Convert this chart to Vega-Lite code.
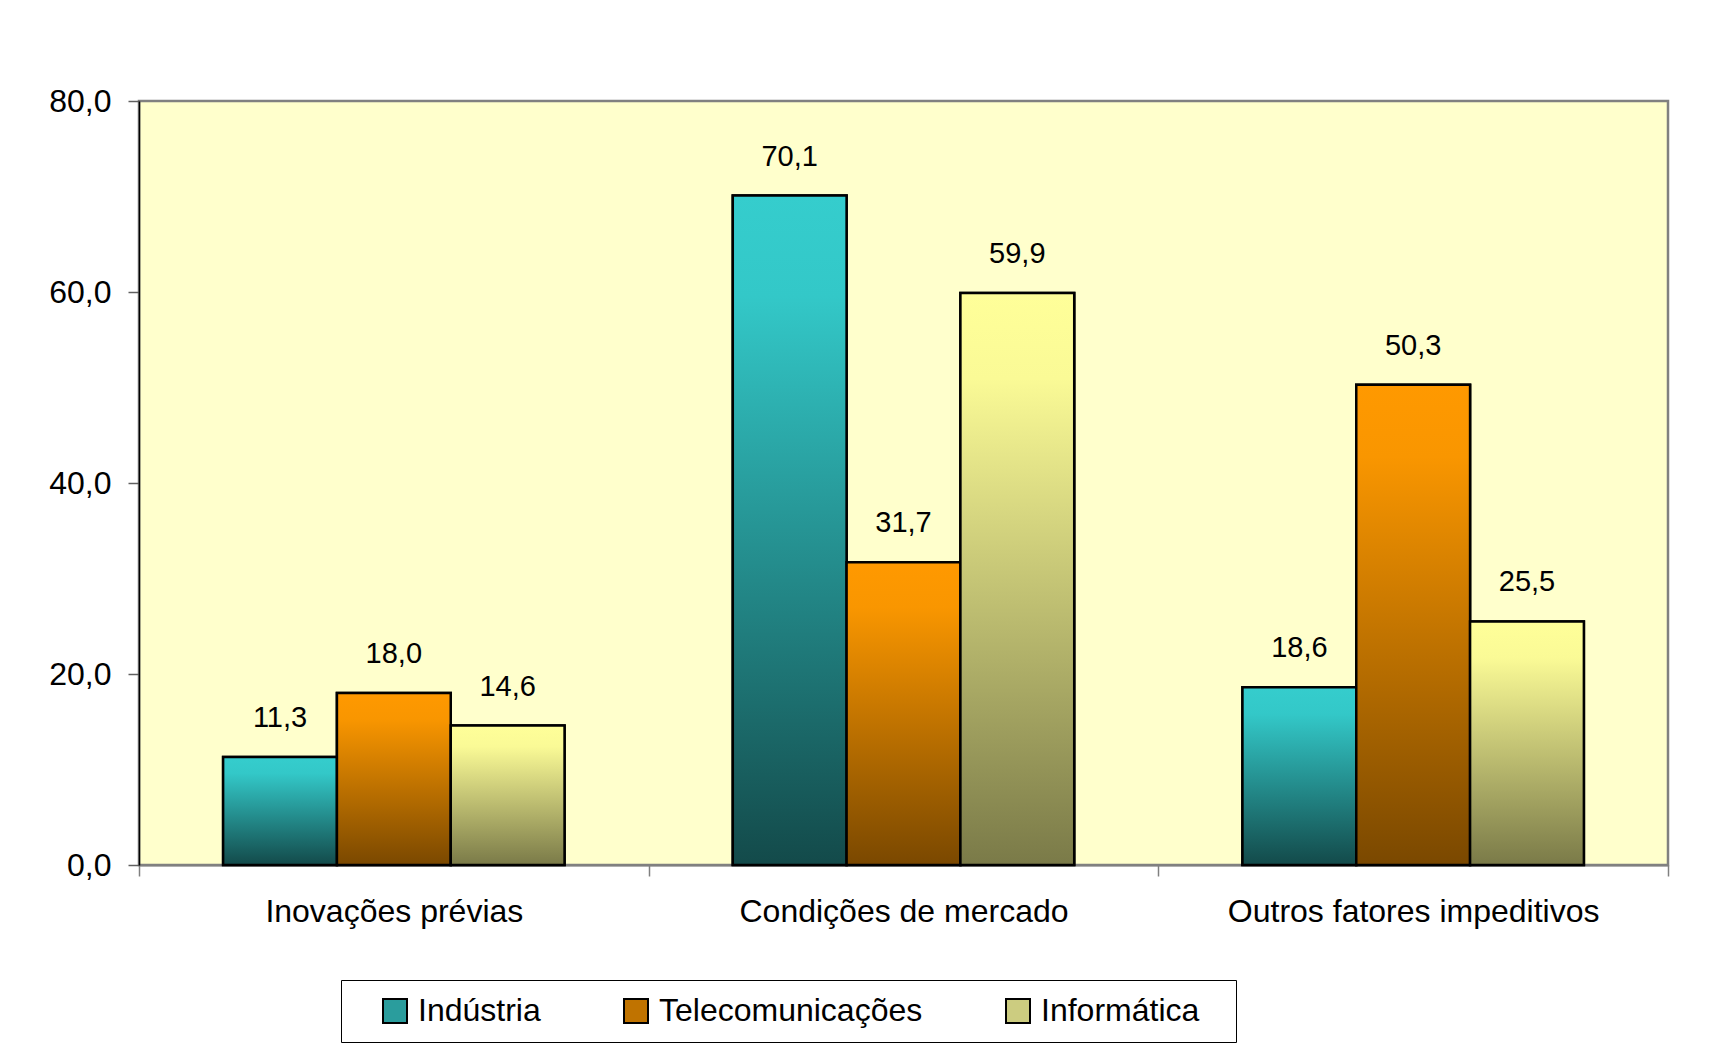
{
  "$schema": "https://vega.github.io/schema/vega-lite/v6.json",
  "width": 1529,
  "height": 764,
  "autosize": {"type": "none"},
  "padding": {"left": 139, "top": 101, "right": 52, "bottom": 185},
  "background": "white",
  "config": {
    "locale": {"number": {"decimal": ",", "thousands": ".", "grouping": [3], "currency": ["R$", ""]}},
    "font": "Liberation Sans",
    "view": {"fill": "#FFFFCC", "stroke": "#808080", "strokeWidth": 2.5}
  },
  "data": {
    "values": [
      {"fator": "Inovações prévias", "serie": "Indústria", "valor": 11.3},
      {"fator": "Inovações prévias", "serie": "Telecomunicações", "valor": 18.0},
      {"fator": "Inovações prévias", "serie": "Informática", "valor": 14.6},
      {"fator": "Condições de mercado", "serie": "Indústria", "valor": 70.1},
      {"fator": "Condições de mercado", "serie": "Telecomunicações", "valor": 31.7},
      {"fator": "Condições de mercado", "serie": "Informática", "valor": 59.9},
      {"fator": "Outros fatores impeditivos", "serie": "Indústria", "valor": 18.6},
      {"fator": "Outros fatores impeditivos", "serie": "Telecomunicações", "valor": 50.3},
      {"fator": "Outros fatores impeditivos", "serie": "Informática", "valor": 25.5}
    ]
  },
  "encoding": {
    "x": {
      "field": "fator", "type": "nominal",
      "sort": ["Inovações prévias", "Condições de mercado", "Outros fatores impeditivos"],
      "scale": {"paddingInner": 0, "paddingOuter": 0},
      "axis": {
        "title": null, "labelAngle": 0, "labelFontSize": 32, "labelColor": "black",
        "labelPadding": 20, "tickBand": "extent", "tickSize": 11, "tickColor": "#808080",
        "tickWidth": 1.5, "domainColor": "#808080", "domainWidth": 2, "labelLimit": 500
      }
    },
    "xOffset": {
      "field": "serie", "type": "nominal",
      "sort": ["Indústria", "Telecomunicações", "Informática"],
      "scale": {"paddingInner": 0, "paddingOuter": 0.739}
    },
    "y": {
      "field": "valor", "type": "quantitative",
      "scale": {"domain": [0, 80]},
      "axis": {
        "title": null, "values": [0, 20, 40, 60, 80], "format": ".1f", "grid": false,
        "labelFontSize": 32, "labelColor": "black", "labelPadding": 17,
        "tickSize": 11, "tickColor": "#606060", "tickWidth": 1.5,
        "domainColor": "black", "domainWidth": 1.5
      }
    }
  },
  "layer": [
    {
      "mark": {"type": "bar", "stroke": "black", "strokeWidth": 2.5},
      "encoding": {
        "fill": {
          "field": "serie", "type": "nominal",
          "sort": ["Indústria", "Telecomunicações", "Informática"],
          "scale": {"domain": ["Indústria", "Telecomunicações", "Informática"], "range": ["#2A9D9D", "#C07300", "#CCCC80"]},
          "legend": {
            "orient": "none", "legendX": 202, "legendY": 879, "direction": "horizontal",
            "title": "\u00a0", "titleOrient": "right", "titlePadding": 22, "titleFontSize": 30,
            "strokeColor": "black", "fillColor": "white", "padding": 15,
            "symbolType": "square", "symbolSize": 576, "symbolStrokeColor": "black",
            "symbolStrokeWidth": 2, "symbolOpacity": 1, "labelFontSize": 32, "labelColor": "black",
            "columnPadding": 56, "labelOffset": 7, "symbolOffset": 23, "labelLimit": 400,
            "encoding": {
              "symbols": {
                "stroke": {"value": "black"},
                "strokeWidth": {"value": 2}
              }
            }
          }
        }
      }
    },
    {
      "mark": {"type": "bar", "stroke": "black", "strokeWidth": 2.5},
      "encoding": {
        "fill": {
          "condition": [
            {"test": "datum.serie === 'Indústria'", "value": {"gradient": "linear", "x1": 0, "y1": 0, "x2": 0, "y2": 1, "stops": [{"offset": 0, "color": "#35CDCD"}, {"offset": 0.15, "color": "#33C8C8"}, {"offset": 1, "color": "#134A4A"}]}},
            {"test": "datum.serie === 'Telecomunicações'", "value": {"gradient": "linear", "x1": 0, "y1": 0, "x2": 0, "y2": 1, "stops": [{"offset": 0, "color": "#FF9900"}, {"offset": 0.15, "color": "#F99600"}, {"offset": 1, "color": "#7A4800"}]}}
          ],
          "value": {"gradient": "linear", "x1": 0, "y1": 0, "x2": 0, "y2": 1, "stops": [{"offset": 0, "color": "#FFFF99"}, {"offset": 0.15, "color": "#FAFA96"}, {"offset": 1, "color": "#7A7A48"}]}
        }
      }
    },
    {
      "mark": {"type": "text", "fontSize": 29, "baseline": "alphabetic", "dy": -30, "color": "black", "align": "center"},
      "encoding": {
        "text": {"field": "valor", "type": "quantitative", "format": ".1f"}
      }
    }
  ]
}
